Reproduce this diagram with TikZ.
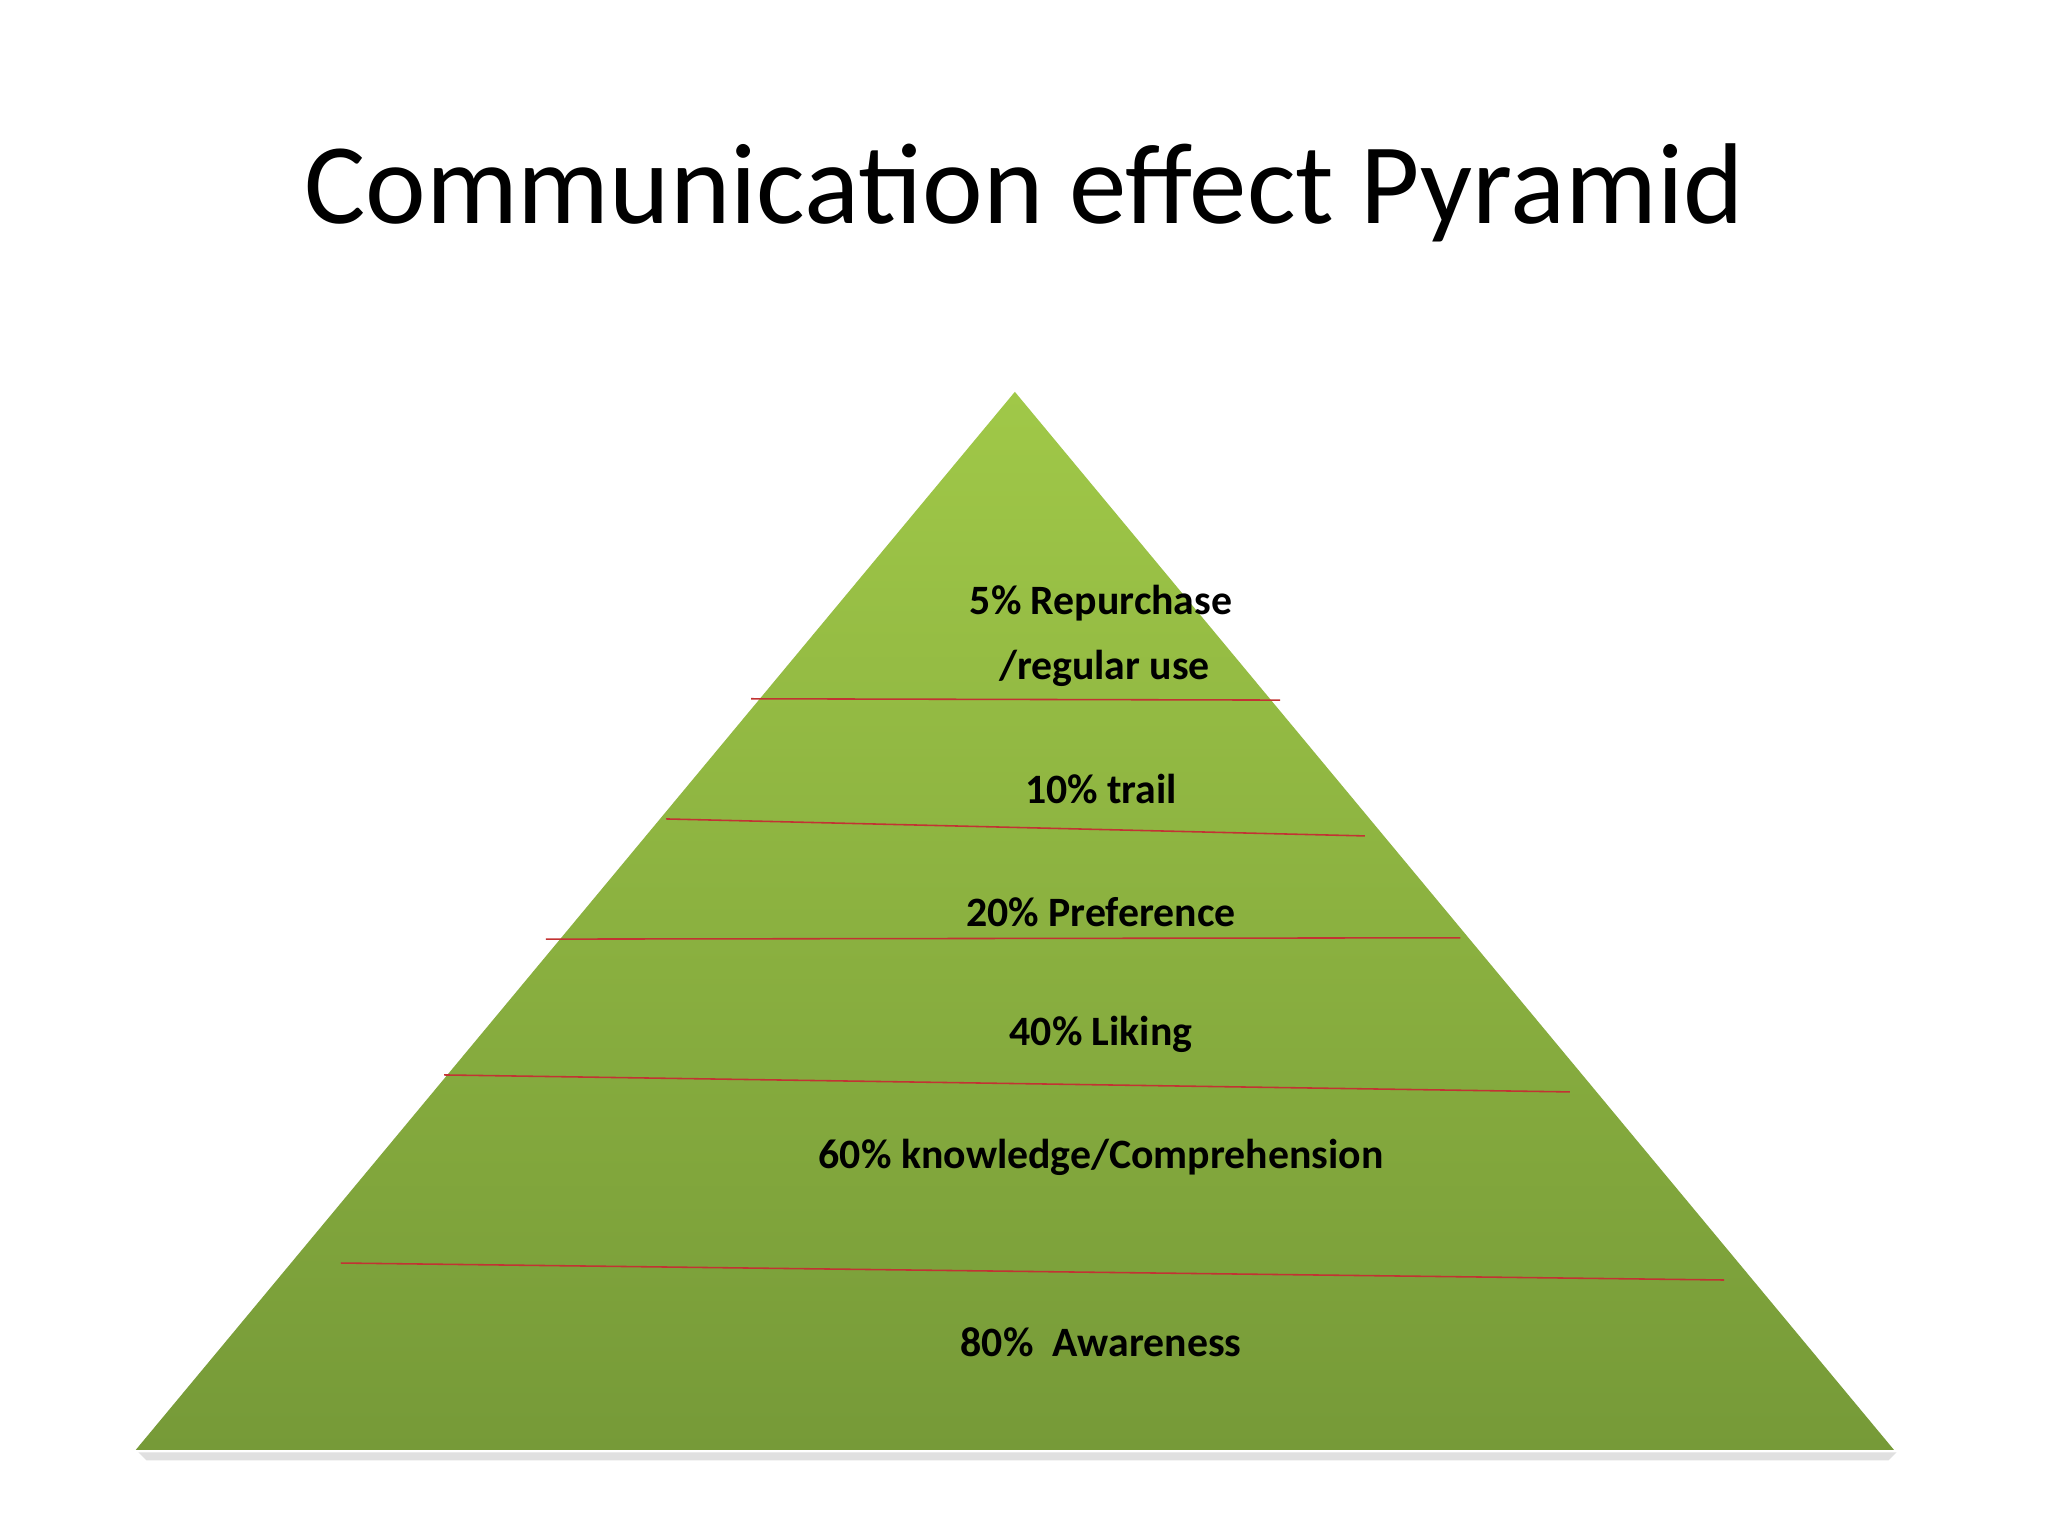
\documentclass[tikz,border=0pt]{standalone}
\usepackage{fontspec}
\setmainfont{Carlito}
\begin{document}
\begin{tikzpicture}[x=0.5pt,y=-0.5pt,
  lbl/.style={font=\bfseries\fontsize{16}{19}\selectfont,align=center,inner sep=0pt},
  sep/.style={draw=red!70!black!80,line width=0.6pt}]
\useasboundingbox (0,0) rectangle (1568,1176);
\fill[white] (0,0) rectangle (1568,1176);
\node[font=\fontsize{44}{52}\selectfont] (title) at (784,148) {Communication effect Pyramid};
% shadow
\fill[black!12] (106,1112) -- (1452,1112) -- (1446,1118) -- (112,1118) -- cycle;
\coordinate (apex) at (777,300);
\coordinate (bl) at (104,1110);
\coordinate (br) at (1450,1110);
\shade[top color={rgb,255:red,160;green,200;blue,72}, bottom color={rgb,255:red,118;green,154;blue,56}]
  (apex) -- (br) -- (bl) -- cycle;
\coordinate (a1) at (575,535); \coordinate (b1) at (980,536);
\coordinate (a2) at (510,627); \coordinate (b2) at (1045,640);
\coordinate (a3) at (418,719); \coordinate (b3) at (1118,718);
\coordinate (a4) at (340,823); \coordinate (b4) at (1202,836);
\coordinate (a5) at (261,967); \coordinate (b5) at (1320,980);
\draw[sep] (a1) -- (b1);
\draw[sep] (a2) -- (b2);
\draw[sep] (a3) -- (b3);
\draw[sep] (a4) -- (b4);
\draw[sep] (a5) -- (b5);
\node[lbl] (l1) at (843,487) {5\% Repurchase\\[6pt]\,/regular use};
\node[lbl] (l2) at (843,604) {10\% trail};
\node[lbl] (l3) at (843,698) {20\% Preference};
\node[lbl] (l4) at (843,792) {40\% Liking};
\node[lbl] (l5) at (843,886) {60\% knowledge/Comprehension};
\node[lbl] (l6) at (843,1028) {80\%\ \ Awareness};
\end{tikzpicture}
\end{document}
